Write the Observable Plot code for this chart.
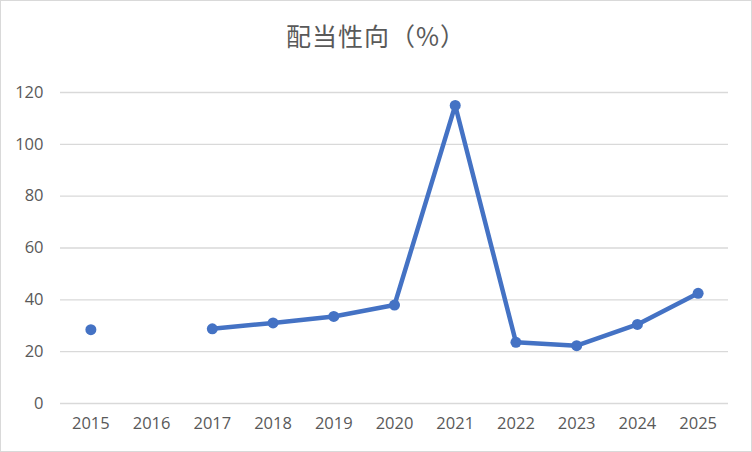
<!DOCTYPE html>
<html>
<head>
<meta charset="utf-8">
<script src="https://cdn.jsdelivr.net/npm/d3@7"></script>
<script src="https://cdn.jsdelivr.net/npm/@observablehq/plot@0.6"></script>
<style>
  html, body { margin: 0; padding: 0; background: #fff; }
  #wrap { position: relative; width: 752px; height: 452px; overflow: hidden; background: #fff; }
  #frame { position: absolute; left: 0; top: 0; width: 752px; height: 452px; box-sizing: border-box; border: 1px solid #d9d9d9; pointer-events: none; }
  #title { position: absolute; left: 0; top: 17px; width: 752px; text-align: center; font-family: "Noto Sans CJK JP", sans-serif; font-size: 25px; color: #595959; line-height: 36px; letter-spacing: 1px; }
  #chart { position: absolute; left: 0; top: 60px; }
  #chart svg text { font-size: 16.5px; }
</style>
</head>
<body>
<div id="wrap">
  <div id="title">配当性向（%）</div>
  <div id="chart"></div>
  <div id="frame"></div>
</div>
<script>
const years = ["2015","2016","2017","2018","2019","2020","2021","2022","2023","2024","2025"];
const payoutRatio = [28.5, null, 28.8, 31.1, 33.6, 38.0, 115.0, 23.6, 22.3, 30.5, 42.5];
const yTicks = [0, 20, 40, 60, 80, 100, 120];

const data = years.map((year, i) => ({year, value: payoutRatio[i]}));
const color = "#4472C4";

const chart = Plot.plot({
  width: 752,
  height: 392,
  marginTop: 32,
  marginBottom: 49,
  marginLeft: 60,
  marginRight: 24,
  style: { fontFamily: "'Open Sans', 'Noto Sans', sans-serif", fontSize: "16.5px", color: "#595959", background: "transparent" },
  x: { type: "point", domain: years, padding: 0.5, round: false, label: null, tickSize: 0, tickPadding: 14 },
  y: { domain: [0, 120], ticks: yTicks, label: null, tickSize: 0, tickPadding: 17 },
  marks: [
    Plot.gridY(yTicks, { stroke: "#d9d9d9", strokeOpacity: 1, strokeWidth: 1.3 }),
    Plot.lineY(data, { x: "year", y: "value", stroke: color, strokeWidth: 4.5, strokeLinejoin: "round" }),
    Plot.dot(data, { x: "year", y: "value", fill: color, r: 5.5 })
  ]
});
document.getElementById("chart").appendChild(chart);
</script>
</body>
</html>
